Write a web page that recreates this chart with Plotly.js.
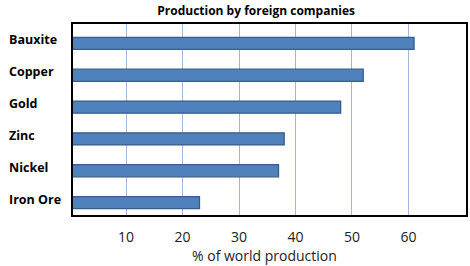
<!DOCTYPE html>
<html>
<head>
<meta charset="utf-8">
<script src="https://cdn.plot.ly/plotly-3.0.1.min.js"></script>
<style>
  html, body { margin: 0; padding: 0; background: #ffffff; }
  #chart { width: 470px; height: 266px; }
</style>
</head>
<body>
<div id="chart"></div>
<script>
// Share of world production held by foreign companies, by mineral
const minerals = ["Bauxite", "Copper", "Gold", "Zinc", "Nickel", "Iron Ore"];
const sharePct = [61, 52, 48, 38, 37, 23];
const xTicks = [10, 20, 30, 40, 50, 60];

const FONT = "Open Sans, Noto Sans, sans-serif";
const labelFont = { family: FONT, size: 12.5, color: "#000000" };

const bars = {
  type: "bar",
  orientation: "h",
  y: minerals,
  x: sharePct,
  width: 0.38,
  offset: -0.08,
  marker: { color: "#4f81bd", line: { color: "#385d8a", width: 1.3 } },
  hoverinfo: "x+y"
};

// Category names drawn left-aligned at the chart's left edge
const nameLabels = minerals.map(m => ({
  xref: "paper", yref: "y",
  x: -66 / 393, y: m,
  xanchor: "left", yanchor: "middle",
  text: "<b>" + m + "</b>",
  showarrow: false,
  font: labelFont
}));

// Value axis caption under the tick labels
const axisCaption = {
  xref: "paper", yref: "paper",
  x: (264 - 73) / 393, y: -(255 - 215) / 191,
  xanchor: "center", yanchor: "middle",
  text: "% of world production",
  showarrow: false,
  font: { family: FONT, size: 14, color: "#222222" }
};

const layout = {
  width: 470, height: 266,
  margin: { l: 73, r: 4, t: 24, b: 51, pad: 0 },
  paper_bgcolor: "#ffffff",
  plot_bgcolor: "#ffffff",
  showlegend: false,
  title: {
    text: "<b>Production by foreign companies</b>",
    font: { family: FONT, size: 12, color: "#000000" },
    x: 0.545, xanchor: "center",
    y: 0.975, yanchor: "top", yref: "container"
  },
  xaxis: {
    range: [0.6, 70.2],
    tickvals: xTicks,
    ticktext: xTicks.map(String),
    showgrid: true,
    gridcolor: "#a3b8d6",
    gridwidth: 1,
    zeroline: false,
    showline: true, mirror: true,
    linecolor: "#000000", linewidth: 2,
    ticks: "",
    ticklabelstandoff: 8,
    tickfont: { family: FONT, size: 14, color: "#222222" },
    automargin: false
  },
  yaxis: {
    type: "category",
    autorange: "reversed",
    showticklabels: false,
    showgrid: false,
    zeroline: false,
    showline: true, mirror: true,
    linecolor: "#000000", linewidth: 2,
    ticks: "",
    automargin: false
  },
  annotations: nameLabels.concat([axisCaption]),
  bargap: 0.62
};

Plotly.newPlot("chart", [bars], layout, { displayModeBar: false, staticPlot: true });
</script>
</body>
</html>
